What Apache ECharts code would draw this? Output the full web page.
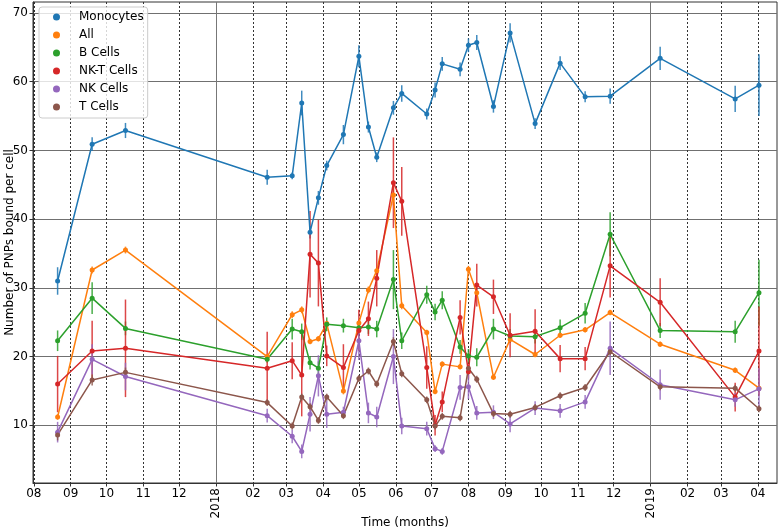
<!DOCTYPE html>
<html><head><meta charset="utf-8">
<script src="https://cdn.jsdelivr.net/npm/echarts@6/dist/echarts.min.js"></script>
<style>html,body{margin:0;padding:0;background:#fff}#c{width:780px;height:532px}</style>
</head><body><div id="c"></div><script>
const dates = ['2017-08-21','2017-09-19','2017-10-17','2018-02-13','2018-03-06','2018-03-14','2018-03-21','2018-03-28','2018-04-04','2018-04-18',
  '2018-05-01','2018-05-09','2018-05-16','2018-05-30','2018-06-06','2018-06-27','2018-07-04','2018-07-10','2018-07-25','2018-08-01',
  '2018-08-08','2018-08-22','2018-09-05','2018-09-26','2018-10-17','2018-11-07','2018-11-28','2019-01-09','2019-03-13','2019-04-02'];
const seriesNames = ['Monocytes','All','B Cells','NK-T Cells','NK Cells','T Cells'];
const seriesColors = ['#1f77b4','#ff7f0e','#2ca02c','#d62728','#9467bd','#8c564b'];
const monocytes = [31.0,50.9,52.9,46.1,46.3,56.9,38.1,43.1,47.8,52.3,63.7,53.4,49.0,56.2,58.3,55.3,58.8,62.6,61.8,65.3,65.7,56.4,67.1,53.9,62.7,57.8,57.9,63.4,57.5,59.5];
const monocytesErr = [2.0,1.0,1.1,1.1,0.5,1.8,0.9,1.0,0.7,1.4,1.6,0.8,0.7,1.0,1.2,0.8,1.1,1.0,1.0,1.0,1.1,0.9,1.4,0.8,1.0,0.8,1.1,1.7,1.9,4.5];
const allCells = [11.2,32.6,35.5,20.0,26.1,26.8,22.2,22.6,24.8,15.0,24.9,29.7,32.5,43.5,27.4,23.5,14.9,18.9,18.5,32.7,29.3,17.0,22.5,20.3,23.1,23.9,26.4,21.8,18.0,15.4];
const allErr = [0.4,0.5,0.5,0.3,0.5,0.5,0.4,0.4,0.4,0.5,0.5,0.5,0.5,1.5,0.5,0.4,0.4,0.4,0.4,0.5,0.5,0.4,0.4,0.4,0.4,0.4,0.4,0.4,0.4,0.4];
const bCells = [22.3,28.5,24.1,19.6,24.0,23.6,19.1,18.3,24.7,24.5,24.2,24.3,24.0,31.2,22.3,29.0,26.5,28.2,21.4,20.1,19.9,24.0,23.0,22.9,24.2,26.3,37.8,23.8,23.6,29.3];
const bErr = [1.5,2.3,1.0,0.5,1.5,1.2,1.0,1.0,1.0,1.0,1.0,1.0,1.2,4.3,1.2,1.3,1.2,1.3,1.0,1.0,1.3,1.5,1.0,1.0,1.2,1.5,3.2,1.1,1.6,4.8];
const nktCells = [16.0,20.8,21.2,18.3,19.4,17.3,34.9,33.6,20.1,18.4,23.8,25.5,31.4,45.3,42.6,18.4,10.0,13.4,25.7,17.8,30.4,28.7,23.1,23.7,19.7,19.7,33.2,27.9,14.1,20.8];
const nktErr = [4.1,4.4,7.1,5.3,2.7,6.0,6.3,6.3,1.5,3.4,3.0,2.5,4.1,6.6,5.0,3.1,1.5,1.5,2.5,1.0,3.1,2.5,3.2,3.2,2.0,1.7,4.6,3.5,2.1,6.5];
const nkCells = [9.0,19.6,17.1,11.4,8.4,6.2,11.6,17.2,11.6,11.9,22.3,11.8,11.2,20.0,9.9,9.5,6.6,6.2,15.5,15.6,11.8,11.9,10.2,12.5,12.1,13.4,21.2,15.9,13.7,15.3];
const nkErr = [1.5,2.2,2.0,1.0,1.0,1.0,2.5,3.0,2.0,0.8,2.8,1.5,1.5,4.0,1.2,1.0,0.5,0.5,1.8,1.8,1.0,1.0,1.2,1.0,1.0,1.0,3.9,2.2,1.0,3.0];
const tCells = [8.6,16.6,17.7,13.3,9.9,14.1,12.7,10.7,14.1,11.4,16.8,17.9,16.0,22.2,17.5,13.7,9.9,11.3,11.1,18.3,16.7,11.7,11.6,12.6,14.3,15.5,20.7,15.6,15.4,12.4];
const tErr = [0.8,0.8,0.7,0.5,0.5,0.5,0.5,0.5,0.5,0.5,0.5,0.5,0.5,0.6,0.5,0.5,0.5,0.5,0.5,0.5,0.5,0.5,0.5,0.5,0.5,0.5,0.5,0.5,0.5,0.5];
const monthTicks = ['2017-08-01','2017-09-01','2017-10-01','2017-11-01','2017-12-01','2018-02-01','2018-03-01','2018-04-01','2018-05-01','2018-06-01',
  '2018-07-01','2018-08-01','2018-09-01','2018-10-01','2018-11-01','2018-12-01','2019-02-01','2019-03-01','2019-04-01'];
const yearTicks = ['2018-01-01','2019-01-01'];
const yTicks = [10,20,30,40,50,60,70];

function ts(s, h) { const p = s.split('-').map(Number); return new Date(p[0], p[1]-1, p[2], h||0).getTime(); }
const xMin = ts('2017-07-31', 8), xMax = ts('2019-04-17', 3);
const allValues = [monocytes, allCells, bCells, nktCells, nkCells, tCells];
const allErrs = [monocytesErr, allErr, bErr, nktErr, nkErr, tErr];
const FONT = 'DejaVu Sans';

const series = [];
seriesNames.forEach((name, i) => {
  const color = seriesColors[i];
  series.push({
    name: name + ' err', type: 'custom', xAxisIndex: 0, yAxisIndex: 0,
    data: dates.map((d, k) => [ts(d), allValues[i][k] - allErrs[i][k], allValues[i][k] + allErrs[i][k]]),
    encode: { x: 0, y: [1, 2] },
    renderItem: (params, api) => {
      const a = api.coord([api.value(0), api.value(1)]);
      const b = api.coord([api.value(0), api.value(2)]);
      return { type: 'line', shape: { x1: a[0], y1: a[1], x2: b[0], y2: b[1] },
        style: { stroke: color, lineWidth: 1.5, opacity: 0.85 } };
    },
    silent: true, animation: false, z: 2
  });
  series.push({
    name: name, type: 'line', xAxisIndex: 0, yAxisIndex: 0,
    data: dates.map((d, k) => [ts(d), allValues[i][k]]),
    symbol: 'circle', symbolSize: 5, showSymbol: true,
    lineStyle: { color: color, width: 1.5 }, itemStyle: { color: color },
    emphasis: { disabled: true }, animation: false, z: 2
  });
});

const chart = echarts.init(document.getElementById('c'), null, { renderer: 'canvas' });
chart.setOption({
  backgroundColor: '#fff',
  animation: false,
  textStyle: { fontFamily: FONT },
  grid: { left: 33, right: 3, top: 2, bottom: 49, containLabel: false, outerBoundsMode: 'none',
    show: true, borderColor: '#333', borderWidth: 1, backgroundColor: 'transparent' },
  legend: {
    show: true, data: seriesNames, orient: 'vertical', left: 39, top: 7,
    icon: 'circle', itemWidth: 7, itemHeight: 7, itemGap: 0,
    padding: [1, 4, 2, 14],
    borderColor: '#ccc', borderWidth: 1, borderRadius: 3, backgroundColor: 'rgba(255,255,255,0.8)',
    textStyle: { fontFamily: FONT, fontSize: 12, color: '#000', lineHeight: 18, padding: [0, 0, 0, 14] },
    selectedMode: false
  },
  xAxis: [
    {
      type: 'value', min: xMin, max: xMax, position: 'bottom', scale: true,
      name: 'Time (months)', nameLocation: 'middle', nameGap: 34, nameMoveOverlap: false,
      nameTextStyle: { fontFamily: FONT, fontSize: 12, color: '#000' },
      axisLine: { show: true, lineStyle: { color: '#333', width: 1 } },
      axisTick: { show: true, length: 3.5, lineStyle: { color: '#333' }, customValues: monthTicks.map(d => ts(d)) },
      axisLabel: { show: true, customValues: monthTicks.map(d => ts(d)), margin: 5, fontFamily: FONT, fontSize: 12, color: '#000',
        formatter: v => { const m = new Date(v).getMonth() + 1; return (m < 10 ? '0' : '') + m; } },
      splitLine: { show: true, lineStyle: { color: '#333', width: 1, type: [2, 2] } }
    },
    {
      type: 'value', min: xMin, max: xMax, position: 'bottom', offset: 0, scale: true,
      axisLine: { show: false },
      axisTick: { show: true, length: 3.5, lineStyle: { color: '#333' }, customValues: yearTicks.map(d => ts(d)) },
      axisLabel: { show: true, customValues: yearTicks.map(d => ts(d)), margin: 5, rotate: 90, fontFamily: FONT, fontSize: 12, color: '#000',
        formatter: v => String(new Date(v).getFullYear()) },
      splitLine: { show: true, lineStyle: { color: '#777', width: 1, type: 'solid' } }
    }
  ],
  yAxis: {
    type: 'value', min: 1.6, max: 71.6,
    name: 'Number of PNPs bound per cell', nameLocation: 'middle', nameGap: 17, nameMoveOverlap: false,
    nameTextStyle: { fontFamily: FONT, fontSize: 12, color: '#000' },
    axisLine: { show: true, lineStyle: { color: '#333' } },
    axisTick: { show: true, length: 3.5, lineStyle: { color: '#333' }, customValues: yTicks },
    axisLabel: { show: true, customValues: yTicks, margin: 5, fontFamily: FONT, fontSize: 12, color: '#000' },
    splitLine: { show: true, lineStyle: { color: '#707070', width: 1 } }
  },
  series: series
});
</script></body></html>
